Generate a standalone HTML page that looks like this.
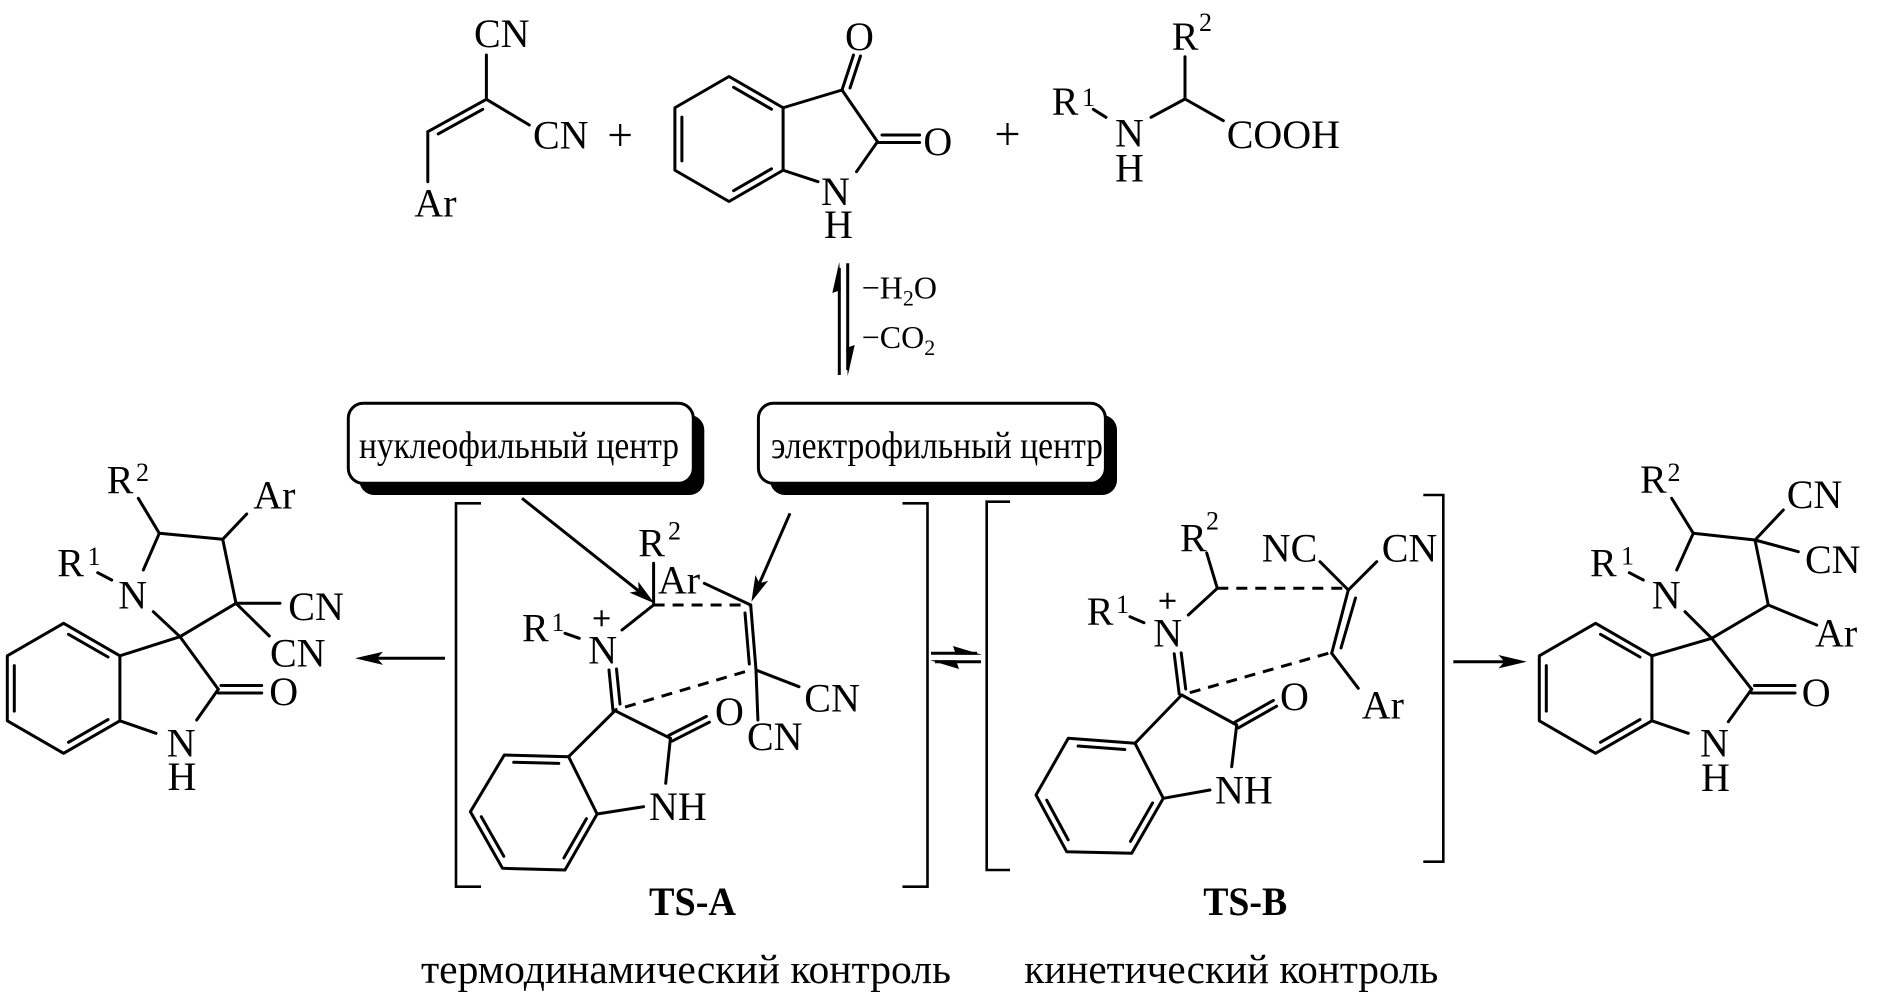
<!DOCTYPE html>
<html>
<head>
<meta charset="utf-8">
<style>
html,body{margin:0;padding:0;background:#fff;}
svg{display:block;}
.b{stroke:#000;stroke-width:3;fill:none;stroke-linecap:round;stroke-linejoin:round;}
.k{stroke:#000;stroke-width:2.6;fill:none;}
.d{stroke:#000;stroke-width:3;fill:none;stroke-dasharray:11 8;}
.p{stroke:#000;stroke-width:2.2;fill:none;}
text{font-family:"Liberation Serif","DejaVu Serif",serif;fill:#000;}
.t{font-size:40px;}
.s{font-size:26px;}
</style>
</head>
<body>
<svg width="1887" height="1000" viewBox="0 0 1887 1000" xmlns="http://www.w3.org/2000/svg">

<!-- ===== Top row: arylidene malononitrile ===== -->
<g class="b">
<line x1="486.4" y1="55" x2="486.4" y2="99.3"/>
<line x1="486.4" y1="99.3" x2="529.3" y2="125"/>
<line x1="486.4" y1="99.3" x2="427.8" y2="131.7"/>
<line x1="482.8" y1="109.3" x2="438.2" y2="133.9"/>
<line x1="427.8" y1="131.7" x2="427.8" y2="181.7"/>
</g>
<text class="t" x="474" y="47">CN</text>
<text class="t" x="533" y="148.3">CN</text>
<text class="t" x="414.4" y="216.7">Ar</text>

<!-- plus 1 -->
<g class="p"><line x1="609.6" y1="135" x2="630.7" y2="135"/><line x1="620.2" y1="124" x2="620.2" y2="146"/></g>

<!-- ===== Isatin ===== -->
<g class="b">
<polygon points="729,76.5 783.1,107.75 783.1,170.25 729,201.5 674.9,170.25 674.9,107.75"/>
<line x1="733.6" y1="87.3" x2="771.5" y2="109.2"/>
<line x1="771.5" y1="168.8" x2="733.6" y2="190.7"/>
<line x1="681.9" y1="117.1" x2="681.9" y2="160.9"/>
<line x1="783.1" y1="107.75" x2="842" y2="90"/>
<line x1="842" y1="90" x2="853.5" y2="55"/>
<line x1="850" y1="88" x2="860.5" y2="56"/>
<line x1="842" y1="90" x2="877.5" y2="141.7"/>
<line x1="877.5" y1="142.5" x2="919.6" y2="142.5"/>
<line x1="882" y1="135" x2="919.6" y2="135"/>
<line x1="877.5" y1="141.7" x2="856.5" y2="171.7"/>
<line x1="818" y1="181.7" x2="783.1" y2="170.25"/>
</g>
<text class="t" x="845" y="50">O</text>
<text class="t" x="923.4" y="155">O</text>
<text class="t" x="821" y="205">N</text>
<text class="t" x="824" y="238">H</text>

<!-- plus 2 -->
<g class="p"><line x1="996.7" y1="134" x2="1018.3" y2="134"/><line x1="1007.5" y1="123" x2="1007.5" y2="145"/></g>

<!-- ===== Amino acid ===== -->
<text class="t" x="1051.7" y="115">R</text>
<text class="s" x="1082" y="106">1</text>
<g class="b">
<line x1="1093.3" y1="109.3" x2="1106" y2="117.3"/>
<line x1="1151" y1="117.3" x2="1185" y2="99"/>
<line x1="1185" y1="99" x2="1185" y2="56.7"/>
<line x1="1185" y1="99" x2="1223.3" y2="120.7"/>
</g>
<text class="t" x="1115" y="146.7">N</text>
<text class="t" x="1115" y="181.7">H</text>
<text class="t" x="1171.7" y="50">R</text>
<text class="s" x="1199" y="31">2</text>
<text class="t" x="1226.7" y="148">COOH</text>

<!-- ===== Equilibrium arrows (vertical) ===== -->
<g class="b" style="stroke-linecap:butt">
<line x1="839.3" y1="268" x2="839.3" y2="375"/>
<line x1="847.7" y1="263.3" x2="847.7" y2="370"/>
</g>
<polygon points="839.3,262 832.3,293 840.8,290" fill="#000"/>
<polygon points="847.7,376 854.7,345 846.2,348" fill="#000"/>
<text x="861.7" y="298.3" font-size="32">−H<tspan font-size="22" dy="7">2</tspan><tspan dy="-7">O</tspan></text>
<text x="861.7" y="348" font-size="32">−CO<tspan font-size="22" dy="7">2</tspan></text>

<!-- ===== Boxes ===== -->
<rect x="359.3" y="415" width="345" height="80" rx="15" fill="#000"/>
<rect x="348.3" y="403.3" width="345" height="80" rx="15" fill="#fff" stroke="#000" stroke-width="3"/>
<text x="359" y="458" font-size="38" textLength="320" lengthAdjust="spacingAndGlyphs">нуклеофильный центр</text>

<rect x="770" y="415" width="347" height="80" rx="15" fill="#000"/>
<rect x="758.4" y="403.3" width="347" height="80" rx="15" fill="#fff" stroke="#000" stroke-width="3"/>
<text x="771" y="458" font-size="38" textLength="332" lengthAdjust="spacingAndGlyphs">электрофильный центр</text>

<!-- ===== Left product ===== -->
<g class="b">
<polygon points="63.6,623.3 119.9,655.8 119.9,720.8 63.6,753.3 7.3,720.8 7.3,655.8"/>
<line x1="68.5" y1="634.3" x2="108" y2="657"/>
<line x1="108" y1="719.6" x2="68.5" y2="742.3"/>
<line x1="14.3" y1="665.6" x2="14.3" y2="711.1"/>
<line x1="180" y1="636.7" x2="119.9" y2="655.8"/>
<line x1="180" y1="636.7" x2="218.3" y2="689.3"/>
<line x1="218.3" y1="693" x2="261.7" y2="693"/>
<line x1="221" y1="685.5" x2="261.7" y2="685.5"/>
<line x1="218.3" y1="689.3" x2="196.7" y2="720"/>
<line x1="156" y1="733.3" x2="119.9" y2="720.8"/>
<line x1="153.3" y1="611.7" x2="180" y2="636.7"/>
<line x1="143.3" y1="570" x2="159.3" y2="533.3"/>
<line x1="97.7" y1="572.7" x2="111.7" y2="580"/>
<line x1="159.3" y1="533.3" x2="138.3" y2="498.3"/>
<line x1="159.3" y1="533.3" x2="222.7" y2="539.3"/>
<line x1="222.7" y1="539.3" x2="246.7" y2="514"/>
<line x1="222.7" y1="539.3" x2="236" y2="603.3"/>
<line x1="236" y1="603.3" x2="280" y2="603.3"/>
<line x1="236" y1="603.3" x2="269.3" y2="636"/>
<line x1="236" y1="603.3" x2="180" y2="636.7"/>
</g>
<text class="t" x="269.3" y="705">O</text>
<text class="t" x="166.7" y="756.7">N</text>
<text class="t" x="167.5" y="790">H</text>
<text class="t" x="118.3" y="608.3">N</text>
<text class="t" x="57.3" y="576.7">R</text>
<text class="s" x="87.5" y="565">1</text>
<text class="t" x="106.7" y="493.3">R</text>
<text class="s" x="136" y="481">2</text>
<text class="t" x="253.3" y="508.3">Ar</text>
<text class="t" x="288.3" y="620">CN</text>
<text class="t" x="270" y="666.7">CN</text>

<!-- left arrow -->
<line x1="445" y1="658.3" x2="376" y2="658.3" class="b" style="stroke-linecap:butt"/>
<polygon points="355,658.3 383,651.8 377,658.3 383,664.8" fill="#000"/>

<!-- ===== TS-A ===== -->
<polyline class="k" points="481,503.3 456,503.3 456,886.7 481,886.7"/>
<polyline class="k" points="902.5,503.3 927.5,503.3 927.5,886.7 902.5,886.7"/>

<!-- arrows from boxes -->
<line x1="522" y1="498.3" x2="638.6" y2="590.9" class="b" style="stroke-linecap:butt"/>
<polygon points="654.3,603.3 629.5,592.6 638.6,590.9 638.3,581.6" fill="#000"/>
<line x1="790" y1="513.3" x2="759.4" y2="583.4" class="b" style="stroke-linecap:butt"/>
<polygon points="751.4,601.7 755.4,575.1 759.4,583.4 768.2,580.7" fill="#000"/>

<g class="b">
<line x1="653.6" y1="563.3" x2="653.6" y2="605"/>
<line x1="704.3" y1="583.3" x2="750.7" y2="605"/>
<line x1="622" y1="630" x2="653.6" y2="605"/>
<line x1="565" y1="633.3" x2="579.3" y2="638.3"/>
<line x1="750.7" y1="605" x2="756" y2="670"/>
<line x1="745" y1="613" x2="749.3" y2="664"/>
<line x1="756" y1="670" x2="799" y2="686.7"/>
<line x1="756" y1="670" x2="757.9" y2="720"/>
<line x1="609" y1="670" x2="613" y2="710.7"/>
<line x1="616.5" y1="669" x2="620" y2="704"/>
<line x1="615" y1="710.7" x2="670.4" y2="738.3"/>
<line x1="671.9" y1="741.2" x2="709.4" y2="722.2"/>
<line x1="668.9" y1="735.4" x2="706.4" y2="716.4"/>
<line x1="670.4" y1="738.3" x2="665.7" y2="783.3"/>
<line x1="643.6" y1="806.7" x2="597.1" y2="814"/>
<line x1="615" y1="710.7" x2="568.6" y2="756.7"/>
<polygon points="568.6,756.7 597.1,814 565,870 502.5,868.3 470.4,811.7 504.3,755"/>
<line x1="513.7" y1="762.3" x2="558.8" y2="763.4"/>
<line x1="481.3" y1="816.7" x2="503.8" y2="856.3"/>
<line x1="586.4" y1="818.7" x2="563.9" y2="857.9"/>
</g>
<line class="d" x1="653.6" y1="605" x2="750.7" y2="605"/>
<line class="d" x1="745" y1="671.7" x2="615" y2="710"/>
<g class="p"><line x1="593.6" y1="618.3" x2="609.6" y2="618.3"/><line x1="601.6" y1="610.3" x2="601.6" y2="626.3"/></g>
<text class="t" x="638.2" y="556.7">R</text>
<text class="s" x="668" y="539.5">2</text>
<text class="t" x="657.9" y="593.3">Ar</text>
<text class="t" x="588.2" y="663.3">N</text>
<text class="t" x="522" y="641.7">R</text>
<text class="s" x="551.5" y="631">1</text>
<text class="t" x="804.3" y="711.7">CN</text>
<text class="t" x="747" y="750">CN</text>
<text class="t" x="715" y="725">O</text>
<text class="t" x="649" y="820">NH</text>
<text x="649" y="915" font-size="40" font-weight="bold" textLength="87" lengthAdjust="spacingAndGlyphs">TS-A</text>

<!-- equilibrium between TS-A and TS-B -->
<g class="b" style="stroke-linecap:butt">
<line x1="931" y1="653.3" x2="977" y2="653.3"/>
<line x1="935" y1="661.7" x2="981" y2="661.7"/>
</g>
<polygon points="982,654.8 953,646 956,654.8" fill="#000"/>
<polygon points="930,660.2 959,669 956,660.2" fill="#000"/>

<!-- ===== TS-B ===== -->
<polyline class="k" points="1010,501.7 986.7,501.7 986.7,870 1010,870"/>
<polyline class="k" points="1423.3,495 1443.3,495 1443.3,861.7 1423.3,861.7"/>
<g class="b">
<line x1="1206.7" y1="553" x2="1217.3" y2="588.3"/>
<line x1="1217.3" y1="588.3" x2="1188.3" y2="615"/>
<line x1="1130" y1="616.7" x2="1144" y2="622.7"/>
<line x1="1174.2" y1="653.7" x2="1179.2" y2="694"/>
<line x1="1181.2" y1="652.9" x2="1185.7" y2="689"/>
<line x1="1181.7" y1="695" x2="1236.7" y2="725"/>
<line x1="1238.3" y1="727.9" x2="1276.6" y2="706.2"/>
<line x1="1235.1" y1="722.1" x2="1273.4" y2="700.4"/>
<line x1="1236.7" y1="725" x2="1231.7" y2="766.7"/>
<line x1="1210" y1="790" x2="1163.3" y2="798.3"/>
<line x1="1181.7" y1="695" x2="1135" y2="743.3"/>
<polygon points="1135,743.3 1163.3,798.3 1131.7,853.3 1066.7,851.7 1036,795 1068.3,738.3"/>
<line x1="1078.1" y1="746.05" x2="1124.8" y2="749.55"/>
<line x1="1046.7" y1="800.15" x2="1068.2" y2="839.85"/>
<line x1="1152.6" y1="802.9" x2="1130.5" y2="841.4"/>
<line x1="1348.3" y1="590" x2="1331.7" y2="653.3"/>
<line x1="1355.5" y1="598" x2="1341" y2="648"/>
<line x1="1348.3" y1="590" x2="1320" y2="561.7"/>
<line x1="1348.3" y1="590" x2="1376.7" y2="561.7"/>
<line x1="1331.7" y1="653.3" x2="1358.3" y2="688.3"/>
</g>
<line class="d" x1="1217.3" y1="588.3" x2="1348.3" y2="588.3"/>
<line class="d" x1="1328.3" y1="653.3" x2="1181.7" y2="695"/>
<g class="p"><line x1="1159.5" y1="600.8" x2="1175.5" y2="600.8"/><line x1="1167.5" y1="592.8" x2="1167.5" y2="608.8"/></g>
<text class="t" x="1180" y="551.7">R</text>
<text class="s" x="1206" y="529.5">2</text>
<text class="t" x="1153.3" y="646.7">N</text>
<text class="t" x="1086.7" y="625">R</text>
<text class="s" x="1116" y="613">1</text>
<text class="t" x="1261.7" y="561.7">NC</text>
<text class="t" x="1381.7" y="561.7">CN</text>
<text class="t" x="1361.7" y="718.3">Ar</text>
<text class="t" x="1280" y="710">O</text>
<text class="t" x="1215" y="803.3">NH</text>
<text x="1203.2" y="915" font-size="40" font-weight="bold" textLength="84" lengthAdjust="spacingAndGlyphs">TS-B</text>

<!-- right arrow -->
<line x1="1453.3" y1="661.7" x2="1505" y2="661.7" class="b" style="stroke-linecap:butt"/>
<polygon points="1526.7,661.7 1498.5,655 1504.5,661.7 1498.5,668.4" fill="#000"/>

<!-- ===== Right product ===== -->
<g class="b">
<polygon points="1595.6,623.3 1651.9,655.8 1651.9,720.8 1595.6,753.3 1539.3,720.8 1539.3,655.8"/>
<line x1="1600.5" y1="634.3" x2="1640" y2="657"/>
<line x1="1640" y1="719.6" x2="1600.5" y2="742.3"/>
<line x1="1546.3" y1="665.6" x2="1546.3" y2="711.1"/>
<line x1="1711.7" y1="638.3" x2="1651.9" y2="655.8"/>
<line x1="1711.7" y1="638.3" x2="1751.7" y2="689.3"/>
<line x1="1751.7" y1="693" x2="1795" y2="693"/>
<line x1="1754.5" y1="685.5" x2="1795" y2="685.5"/>
<line x1="1751.7" y1="689.3" x2="1728.3" y2="721.7"/>
<line x1="1688.3" y1="733.3" x2="1651.9" y2="720.8"/>
<line x1="1685" y1="611.7" x2="1711.7" y2="638.3"/>
<line x1="1676.7" y1="570" x2="1693.3" y2="533.3"/>
<line x1="1629.3" y1="572.7" x2="1643.3" y2="580"/>
<line x1="1693.3" y1="533.3" x2="1671.7" y2="498.3"/>
<line x1="1693.3" y1="533.3" x2="1755" y2="540"/>
<line x1="1755" y1="540" x2="1783.3" y2="510"/>
<line x1="1755" y1="540" x2="1798.3" y2="551.7"/>
<line x1="1755" y1="540" x2="1768.3" y2="605"/>
<line x1="1768.3" y1="605" x2="1816.7" y2="625"/>
<line x1="1768.3" y1="605" x2="1711.7" y2="638.3"/>
</g>
<text class="t" x="1801.7" y="706">O</text>
<text class="t" x="1700" y="756.7">N</text>
<text class="t" x="1701" y="791">H</text>
<text class="t" x="1651.7" y="608.3">N</text>
<text class="t" x="1590" y="576.7">R</text>
<text class="s" x="1621" y="564.5">1</text>
<text class="t" x="1640" y="493">R</text>
<text class="s" x="1667.5" y="481">2</text>
<text class="t" x="1786.7" y="508">CN</text>
<text class="t" x="1805" y="573">CN</text>
<text class="t" x="1815" y="646.7">Ar</text>

<!-- ===== Bottom captions ===== -->
<text x="421" y="983" font-size="41" textLength="530" lengthAdjust="spacingAndGlyphs">термодинамический контроль</text>
<text x="1024.3" y="983" font-size="41" textLength="414" lengthAdjust="spacingAndGlyphs">кинетический контроль</text>

</svg>
</body>
</html>
